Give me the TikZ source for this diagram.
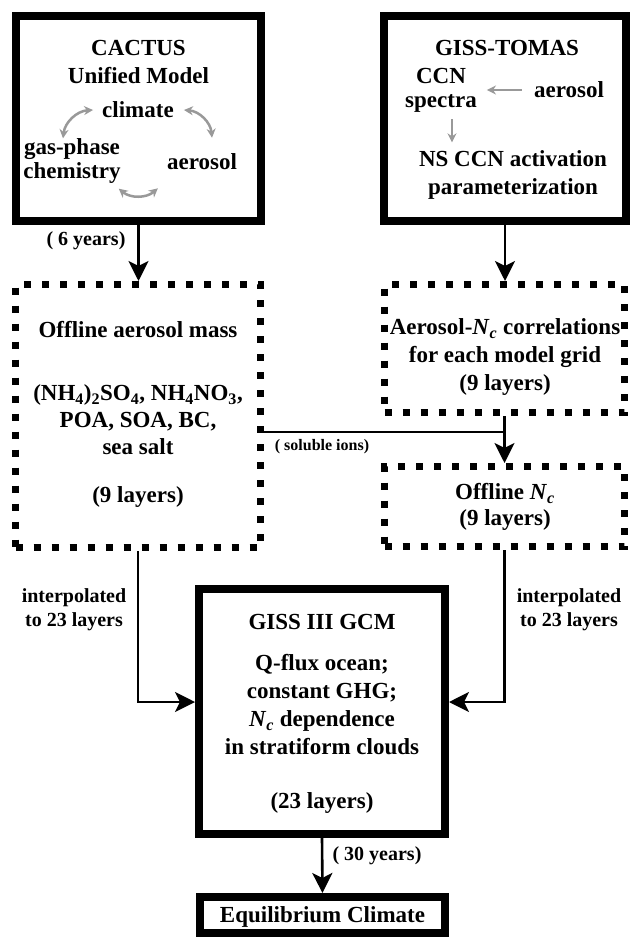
\documentclass[tikz,border=0pt]{standalone}
\usepackage{fontspec}
\setmainfont{Liberation Serif}
\usetikzlibrary{arrows.meta}

\tikzstyle{model} = [rectangle, draw=black, line width=8pt, inner sep=0pt]
\tikzstyle{offline} = [rectangle, draw=black, line width=7pt, dash pattern=on 7pt off 11pt, inner sep=0pt]
\tikzstyle{txt} = [align=center, inner sep=0pt, font=\fontsize{23}{28}\selectfont\bfseries]
\tikzstyle{tight} = [align=center, inner sep=0pt, font=\fontsize{23}{24}\selectfont\bfseries]
\tikzstyle{note} = [align=center, inner sep=0pt, font=\fontsize{20}{24}\selectfont\bfseries]
\tikzstyle{small} = [inner sep=0pt, font=\fontsize{16}{19}\selectfont\bfseries]
\tikzstyle{arrow} = [line width=2.6pt, -{Stealth[length=20pt,width=20pt,inset=5pt]}]
\tikzstyle{link} = [line width=2.6pt]
\tikzstyle{loopline} = [draw=black!40, line width=2.5pt, {Stealth[length=9pt,width=9pt]}-{Stealth[length=9pt,width=9pt]}]
\tikzstyle{greyarrow} = [draw=black!40, line width=2.5pt, -{Stealth[length=9pt,width=9pt]}]

\newcommand{\Nc}{\textit{N}\textsubscript{\textit{c}}}

\begin{document}
\begin{tikzpicture}[x=1pt, y=-1pt]
\useasboundingbox (0,0) rectangle (631,937);

% model boxes
\node (cactus) [model, minimum width=245pt, minimum height=205pt] at (138.5,118.5) {};
\node (tomas) [model, minimum width=242pt, minimum height=205pt] at (505,118.5) {};
\node (gcm) [model, minimum width=246pt, minimum height=245pt] at (322,711.5) {};
\node (equil) [model, txt, text depth=0pt, minimum width=245pt, minimum height=36pt] at (322.5,915) {Equilibrium Climate};

% offline fields
\node (mass) [offline, minimum width=245pt, minimum height=263pt] at (138,416) {};
\node (aernc) [offline, minimum width=240pt, minimum height=128pt] at (504.5,348.5) {};
\node (offnc) [offline, minimum width=240pt, minimum height=80pt] at (504.5,506.5) {};

% CACTUS contents
\node (cactusttl) [txt] at (138.5,62) {CACTUS\\Unified Model};
\node (climate) [txt] at (138,110) {climate};
\node (gasphase) [tight] at (72,161) {gas-phase\\chemistry};
\node (aerosolA) [txt] at (202,162) {aerosol};
\draw [loopline] ([xshift=-9pt]climate.west) to[bend right=40] ([xshift=-9pt]gasphase.north);
\draw [loopline] ([xshift=10pt]climate.east) to[bend left=40] ([shift={(10pt,16pt)}]aerosolA.north);
\draw [loopline] ([shift={(-2pt,-5pt)}]gasphase.south east) to[bend right=40] ([shift={(-9pt,-18pt)}]aerosolA.south west);

% GISS-TOMAS contents
\node (tomasttl) [txt] at (507,48) {GISS-TOMAS};
\node (ccn) [tight] at (441,90) {CCN\\spectra};
\node (aerosolB) [txt] at (569,90) {aerosol};
\node (nsccn) [txt] at (513,175) {NS CCN activation\\parameterization};
\draw [greyarrow] ([xshift=-12pt]aerosolB.west) -- ([xshift=10pt]ccn.east);
\draw [greyarrow] ([shift={(11pt,-7pt)}]ccn.south) -- ([shift={(-61pt,8pt)}]nsccn.north);

% offline contents
\node (massttl) [txt] at (138,330) {Offline aerosol mass};
\node (species) [txt, font=\fontsize{23}{27}\selectfont\bfseries] at (138,420) {(NH\textsubscript{4})\textsubscript{2}SO\textsubscript{4}, NH\textsubscript{4}NO\textsubscript{3},\\POA, SOA, BC,\\sea salt};
\node (masslay) [txt] at (138,497) {(9 layers)};
\node (aernctxt) [txt] at (505,357) {Aerosol-\Nc{} correlations\\for each model grid\\(9 layers)};
\node (offnctxt) [txt, font=\fontsize{23}{26}\selectfont\bfseries] at (505,507) {Offline \Nc\\(9 layers)};

% GCM contents
\node (gcmttl) [txt] at (322,622) {GISS III GCM};
\node (gcmset) [txt, font=\fontsize{23}{27.7}\selectfont\bfseries] at (322,704.5) {Q-flux ocean;\\constant GHG;\\\Nc{} dependence\\in stratiform clouds};
\node (gcmlay) [txt] at (322,803) {(23 layers)};

% connectors
\draw [arrow] (cactus.south) -- (cactus.south |- mass.north);
\draw [arrow] (tomas.south) -- (tomas.south |- aernc.north);
\draw [arrow] (aernc.south) -- (offnc.north);
\coordinate (ionjoin) at (504.5,432);
\draw [link] (mass.east |- ionjoin) -- (ionjoin);
\draw [arrow] (mass.south) |- ([yshift=9.5pt]gcm.west);
\draw [arrow] (offnc.south) |- ([yshift=9.5pt]gcm.east);
\draw [arrow] (gcm.south) -- (equil.north);

% labels
\node (sixyr) [note] at (86,241) {( 6 years)};
\node (ions) [small] at (322,447) {( soluble ions)};
\node (interpL) [note] at (74,610) {interpolated\\to 23 layers};
\node (interpR) [note] at (569,610) {interpolated\\to 23 layers};
\node (thirtyyr) [note] at (377,856) {( 30 years)};

\end{tikzpicture}
\end{document}
